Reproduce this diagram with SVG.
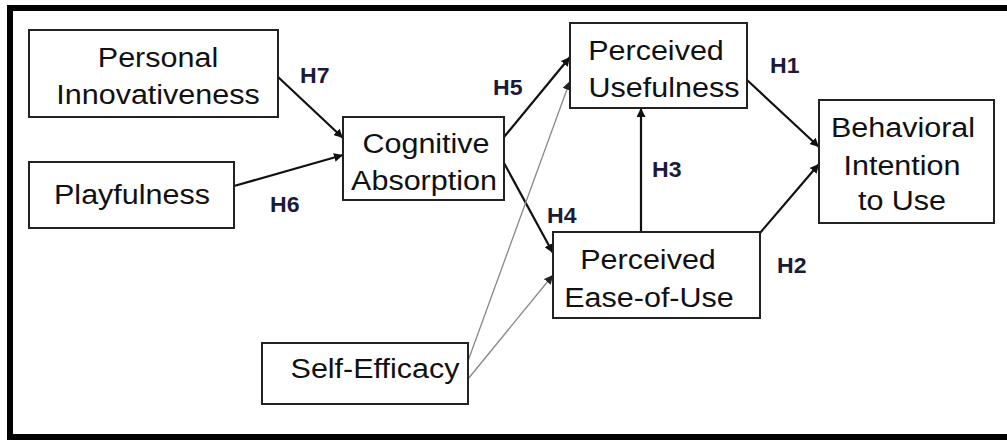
<svg xmlns="http://www.w3.org/2000/svg" width="1007" height="441" viewBox="0 0 1007 441">
  <defs>
    <marker id="ah" viewBox="0 0 10 10" refX="10" refY="5" markerWidth="9" markerHeight="9" markerUnits="userSpaceOnUse" orient="auto">
      <path d="M0,0 L10,5 L0,10 z" fill="#111"/>
    </marker>
    <marker id="ahg" viewBox="0 0 10 10" refX="10" refY="5" markerWidth="9" markerHeight="9" markerUnits="userSpaceOnUse" orient="auto">
      <path d="M0,0 L10,5 L0,10 z" fill="#222"/>
    </marker>
  </defs>
  <style>
    .box { fill: #fff; stroke: #222; stroke-width: 2; }
    .t { font-family: "Liberation Sans", Arial, sans-serif; font-size: 28px; fill: #111; text-anchor: middle; }
    .h { font-family: "Liberation Sans", Arial, sans-serif; font-size: 22px; font-weight: bold; fill: #1a1a3a; }
    .c { stroke: #111; stroke-width: 2.2; fill: none; marker-end: url(#ah); }
    .g { stroke: #888; stroke-width: 1.3; fill: none; marker-end: url(#ahg); }
  </style>
  <rect x="0" y="0" width="1007" height="441" fill="#fff"/>
  <rect x="10" y="8" width="1010" height="429" fill="none" stroke="#000" stroke-width="6"/>

  <g id="connectors">
    <line class="c" x1="277" y1="76" x2="343" y2="138"/>
    <line class="c" x1="234" y1="186" x2="343" y2="155"/>
    <line class="c" x1="504" y1="137" x2="570" y2="57"/>
    <line class="c" x1="504" y1="163" x2="553" y2="253"/>
    <line class="g" x1="468" y1="361" x2="570" y2="81"/>
    <line class="g" x1="468" y1="379" x2="553" y2="275"/>
    <line class="c" x1="641" y1="232" x2="641" y2="108"/>
    <line class="c" x1="747" y1="80" x2="819" y2="147"/>
    <line class="c" x1="760" y1="233" x2="819" y2="164"/>
  </g>

  <g id="personal-innovativeness">
    <rect class="box" x="29" y="30" width="249" height="87"/>
    <text class="t" transform="matrix(1.09 0 0 1 158 67)">Personal</text>
    <text class="t" transform="matrix(1.09 0 0 1 158 104)">Innovativeness</text>
  </g>
  <g id="playfulness">
    <rect class="box" x="29" y="162" width="205" height="66"/>
    <text class="t" transform="matrix(1.09 0 0 1 132 204)">Playfulness</text>
  </g>
  <g id="cognitive-absorption">
    <rect class="box" x="343" y="117" width="161" height="83"/>
    <text class="t" transform="matrix(1.09 0 0 1 426 153)">Cognitive</text>
    <text class="t" transform="matrix(1.09 0 0 1 424 190)">Absorption</text>
  </g>
  <g id="perceived-usefulness">
    <rect class="box" x="570" y="23" width="177" height="85"/>
    <text class="t" transform="matrix(1.09 0 0 1 656 60)">Perceived</text>
    <text class="t" transform="matrix(1.09 0 0 1 664 97)">Usefulness</text>
  </g>
  <g id="perceived-ease-of-use">
    <rect class="box" x="553" y="232" width="207" height="86"/>
    <text class="t" transform="matrix(1.09 0 0 1 648 269)">Perceived</text>
    <text class="t" transform="matrix(1.09 0 0 1 649 307)">Ease-of-Use</text>
  </g>
  <g id="behavioral-intention">
    <rect class="box" x="819" y="100" width="175" height="123"/>
    <text class="t" transform="matrix(1.09 0 0 1 903 137)">Behavioral</text>
    <text class="t" transform="matrix(1.09 0 0 1 902 175)">Intention</text>
    <text class="t" transform="matrix(1.09 0 0 1 902 210)">to Use</text>
  </g>
  <g id="self-efficacy">
    <rect class="box" x="262" y="343" width="206" height="61"/>
    <text class="t" transform="matrix(1.09 0 0 1 375 378)">Self-Efficacy</text>
  </g>

  <g id="labels">
    <text class="h" transform="matrix(1.05 0 0 1 300 83)">H7</text>
    <text class="h" transform="matrix(1.05 0 0 1 270 212)">H6</text>
    <text class="h" transform="matrix(1.05 0 0 1 493 95)">H5</text>
    <text class="h" transform="matrix(1.05 0 0 1 547 223)">H4</text>
    <text class="h" transform="matrix(1.05 0 0 1 652 177)">H3</text>
    <text class="h" transform="matrix(1.05 0 0 1 770 73)">H1</text>
    <text class="h" transform="matrix(1.05 0 0 1 777 273)">H2</text>
  </g>
</svg>
